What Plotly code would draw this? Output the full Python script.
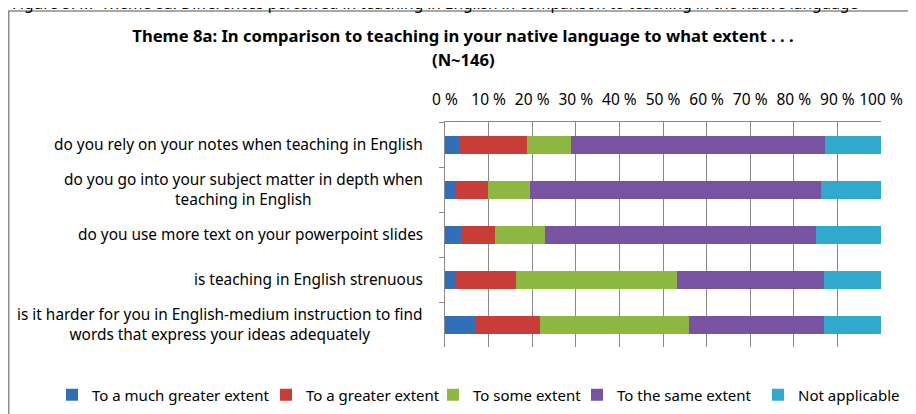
"""Theme 8a: stacked 100% bars, teaching in English vs native language."""

import plotly.graph_objects as go

questions = [
    "do you rely on your notes when teaching in English",
    "do you go into your subject matter in depth when<br>teaching in English",
    "do you use more text on your powerpoint slides",
    "is teaching in English strenuous",
    "is it harder for you in English-medium instruction to find<br>words that express your ideas adequately",
]

much_greater = [3.1, 2.4, 3.8, 2.4, 7.2]
greater = [15.8, 7.5, 7.7, 13.9, 14.5]
some = [10.1, 9.7, 11.5, 37.0, 34.3]
same = [58.1, 66.7, 62.0, 33.7, 31.0]
not_applicable = [12.9, 13.7, 15.0, 13.0, 13.0]

series = [
    ("To a much greater extent", much_greater, "#3170B8"),
    ("To a greater extent", greater, "#C93D39"),
    ("To some extent", some, "#8DB842"),
    ("To the same extent", same, "#7753A1"),
    ("Not applicable", not_applicable, "#31A9CC"),
]

FONT = "Noto Sans"
W, H = 908, 406  # page body adds an 8px margin, so stay inside the window

# one legend per series so each entry can sit where the original puts it
legend_x = [44, 258, 425, 569, 750]

fig = go.Figure()
for i, (name, vals, color) in enumerate(series):
    lg = "legend" if i == 0 else f"legend{i + 1}"
    fig.add_trace(
        go.Bar(
            y=questions,
            x=vals,
            name=name,
            orientation="h",
            marker_color=color,
            marker_line_width=0,
            width=0.4,
            legend=lg,
        )
    )
    fig.update_layout({
        lg: dict(
            orientation="h", x=legend_x[i] / W, xref="container", xanchor="left",
            y=0.047, yref="container", yanchor="middle",
            font=dict(family=FONT, size=15, color="#000"), itemwidth=30,
            bgcolor="rgba(0,0,0,0)",
        )
    })

# category labels as annotations so wrapped lines can be centred
for q in questions:
    fig.add_annotation(
        x=-0.046, xref="paper", y=q, yref="y",
        text=q, showarrow=False, xanchor="right", align="center",
        font=dict(family=FONT, size=15.4, color="#000"),
    )

# second title line, kept apart for the wider line spacing
fig.add_annotation(
    x=(455 - 437) / 436, xref="paper", xanchor="center", y=1.2756, yref="paper",
    yanchor="middle", text="<b>(N~146)</b>", showarrow=False,
    font=dict(family=FONT, size=16.6, color="#000"),
)

# caption clipped at the top of the crop
fig.add_annotation(
    x=-0.9977, xref="paper", xanchor="left", y=1.531, yref="paper",
    yanchor="middle",
    text="Figure 5.4.7 Theme 8a: Differences perceived in teaching in English in comparison to teaching in the native language",
    showarrow=False,
    font=dict(family=FONT, size=15.5, color="#000"),
)

fig.update_layout(
    width=W,
    height=H,
    barmode="stack",
    margin=dict(l=437, r=35, t=114, b=67, autoexpand=False),
    title=dict(
        text="<b>Theme 8a: In comparison to teaching in your native language to what extent . . .</b>",
        x=455 / W, xanchor="center", y=1 - 28 / H, yref="container", yanchor="middle",
        font=dict(family=FONT, size=16.6, color="#000"),
    ),
    font=dict(family=FONT, size=15.5, color="#000"),
    paper_bgcolor="white",
    plot_bgcolor="white",
    showlegend=True,
)

fig.update_xaxes(
    side="top", range=[0, 100], dtick=10, ticksuffix=" %",
    showgrid=True, gridcolor="#888888", gridwidth=1,
    showline=True, linecolor="#888888", linewidth=1,
    ticks="inside", ticklen=5, tickcolor="#888888", ticklabelstandoff=10,
    zeroline=False, tickfont=dict(family=FONT, size=15.5), automargin=False,
)
fig.update_yaxes(
    autorange="reversed", showticklabels=False,
    showline=True, linecolor="#888888", linewidth=1,
    ticks="outside", ticklen=5, tickcolor="#888888", tickson="boundaries",
    showgrid=False, automargin=False,
)

# outer chart border
fig.add_shape(
    type="rect", xref="paper", yref="paper",
    x0=-1.0006, x1=1.0688, y0=-0.4, y1=1.493,
    line=dict(color="#8c8c8c", width=1.5), fillcolor="rgba(0,0,0,0)",
    layer="below",
)

fig.write_html("out.html")
